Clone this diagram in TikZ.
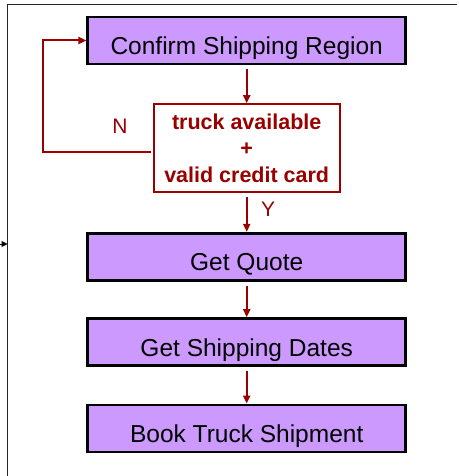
\documentclass[tikz,border=0pt]{standalone}
\usepackage{fontspec}
\setmainfont{Liberation Sans}
\usetikzlibrary{arrows.meta}
\definecolor{boxfill}{HTML}{CC99FF}
\definecolor{flowred}{HTML}{990000}

\begin{document}
\begin{tikzpicture}[x=1pt,y=-1pt,
  stepbox/.style={draw=black, line width=2.6pt, fill=boxfill,
    minimum width=318pt, minimum height=47pt, inner sep=0pt,
    text height=28.5pt, text depth=0pt, font=\fontsize{24.5}{28}\selectfont},
  check/.style={draw=flowred, line width=2pt, fill=white,
    minimum width=186pt, minimum height=88pt, inner sep=0pt,
    align=center, text=flowred, font=\bfseries\fontsize{21.5}{26.5}\selectfont},
  flow/.style={draw=flowred, line width=2pt, -{Triangle[length=8pt,width=7pt]}},
  tag/.style={text=flowred, font=\fontsize{21}{24}\selectfont, inner sep=0pt, anchor=base}
]
\useasboundingbox (0,0) rectangle (458,476);

% frame lines and the incoming arrow on the left
\draw[line width=1pt, draw=black!85] (7,476) -- (7,5) -- (457,5);
\coordinate (infrom) at (0,244);
\coordinate (into) at (7.5,244);
\draw[line width=1pt, -{Triangle[length=6pt,width=6pt]}] (infrom) -- (into);

% process steps
\node[stepbox] (region) at (246.7,40.5) {Confirm Shipping Region};
\node[check]   (check)  at (246.7,148.2) {truck available\\+\\valid credit card};
\node[stepbox] (quote)  at (246.7,256.7) {Get Quote};
\node[stepbox] (dates)  at (246.7,342)   {Get Shipping Dates};
\node[stepbox] (book)   at (246.7,428.3) {Book Truck Shipment};

% connectors
\draw[flow, shorten <=4pt] (region.south) -- (check.north);
\draw[flow, shorten <=4pt] (check.south) -- (quote.north);
\draw[flow, shorten <=4pt] (quote.south) -- (dates.north);
\draw[flow, shorten <=4pt] (dates.south) -- (book.north);
\draw[flow, shorten <=2pt] ([yshift=-3.5pt]check.west) -- ++(-109.7,0) |- (region.west);

% branch labels
\node[tag] (nlabel) at (120,133.5) {N};
\node[tag] (ylabel) at (268,216.7) {Y};
\end{tikzpicture}
\end{document}
